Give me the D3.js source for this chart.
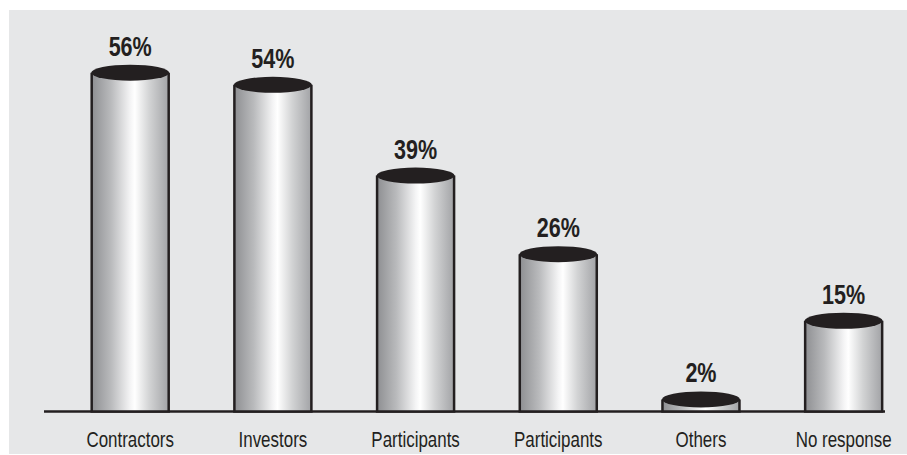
<!DOCTYPE html>
<html>
<head>
<meta charset="utf-8">
<script src="https://cdn.jsdelivr.net/npm/d3@7"></script>
<style>
  html, body { margin: 0; padding: 0; background: #ffffff; }
  svg { display: block; }
  text { font-family: "Liberation Sans", Arial, sans-serif; fill: #231f20; }
</style>
</head>
<body>
<svg id="chart" width="907" height="455"></svg>
<script>
// Survey shares by respondent group
const categories = ["Contractors", "Investors", "Participants", "Participants", "Others", "No response"];
const shares = [56, 54, 39, 26, 2, 15];
const shareLabels = ["56%", "54%", "39%", "26%", "2%", "15%"];

const W = 907, H = 455;
const baseY = 411.5;
const barW = 77;
const capRy = 8;
const ink = "#231f20";
const narrow = 0.77; // horizontal squeeze for a condensed look

const svg = d3.select("#chart");

// panel background
svg.append("rect")
  .attr("x", 9).attr("y", 10)
  .attr("width", W - 9).attr("height", 444)
  .attr("fill", "#e6e7e8");

// horizontal shading of the cylinder body
const defs = svg.append("defs");
const grad = defs.append("linearGradient")
  .attr("id", "cyl").attr("x1", "0%").attr("x2", "100%").attr("y1", "0%").attr("y2", "0%");
[[0, "#8e8f92"], [0.25, "#b9babc"], [0.5, "#f4f4f5"], [0.56, "#ffffff"], [0.75, "#d2d3d4"], [1, "#a2a3a6"]]
  .forEach(([o, c]) => grad.append("stop").attr("offset", o).attr("stop-color", c));

const x = d3.scaleBand()
  .domain(d3.range(categories.length))
  .range([58.85, 915])
  .paddingInner(0).paddingOuter(0);

const y = d3.scaleLinear().domain([0, 60]).range([baseY, baseY - 60 * 6.05]);

const cx = i => x(i) + x.bandwidth() / 2;

// baseline
svg.append("line")
  .attr("x1", 44).attr("x2", 885)
  .attr("y1", baseY).attr("y2", baseY)
  .attr("stroke", ink).attr("stroke-width", 2.5);

const g = svg.append("g").selectAll("g")
  .data(shares.map((v, i) => ({ v, i })))
  .join("g");

// cylinder body
g.append("rect")
  .attr("x", d => cx(d.i) - barW / 2)
  .attr("y", d => y(d.v))
  .attr("width", barW)
  .attr("height", d => baseY - y(d.v))
  .attr("fill", "url(#cyl)");

// body outline (sides and bottom)
g.append("path")
  .attr("d", d => {
    const l = cx(d.i) - barW / 2, r = cx(d.i) + barW / 2, t = y(d.v);
    return `M${l},${t}L${l},${baseY}L${r},${baseY}L${r},${t}`;
  })
  .attr("fill", "none")
  .attr("stroke", ink)
  .attr("stroke-width", 2.5);

// top cap
g.append("ellipse")
  .attr("cx", d => cx(d.i))
  .attr("cy", d => y(d.v))
  .attr("rx", barW / 2 + 0.5)
  .attr("ry", capRy)
  .attr("fill", ink);

// value labels
g.append("text")
  .attr("transform", d => `translate(${cx(d.i)},${y(d.v) - capRy - 9}) scale(${narrow},1)`)
  .attr("text-anchor", "middle")
  .attr("font-size", 28)
  .attr("font-weight", "bold")
  .text(d => shareLabels[d.i]);

// category labels
svg.append("g").selectAll("text")
  .data(categories)
  .join("text")
  .attr("transform", (d, i) => `translate(${cx(i)},447) scale(${narrow},1)`)
  .attr("text-anchor", "middle")
  .attr("font-size", 22)
  .text(d => d);
</script>
</body>
</html>
